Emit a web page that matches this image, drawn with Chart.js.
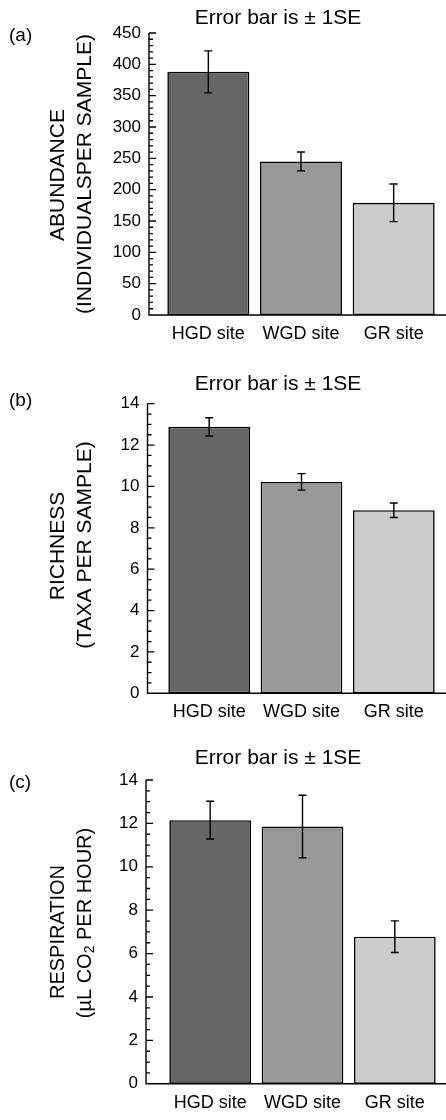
<!DOCTYPE html>
<html>
<head>
<meta charset="utf-8">
<script src="https://cdn.jsdelivr.net/npm/chart.js@4.4.1/dist/chart.umd.min.js"></script>
<style>
  body { margin: 0; background: #fff; }
  canvas { display: block; }
</style>
</head>
<body>
<canvas id="chartA" width="446" height="370"></canvas>
<canvas id="chartB" width="446" height="370"></canvas>
<canvas id="chartC" width="446" height="380"></canvas>
<script>
const sites = ['HGD site', 'WGD site', 'GR site'];
const abundance = [388, 245, 179];
const abundanceSE = [33.5, 15, 30];
const richness = [12.88, 10.22, 8.85];
const richnessSE = [0.44, 0.4, 0.35];
const respiration = [12.15, 11.86, 6.78];
const respirationSE = [0.87, 1.44, 0.73];
const barColors = ['#666666', '#999999', '#cccccc'];
const titleText = 'Error bar is \u00b1 1SE';

const FONT = "'Liberation Sans', Arial, Helvetica, sans-serif";

// error bars, hand drawn axis with minor ticks, and the panel texts
const panelDecor = {
  id: 'panelDecor',
  afterDatasetsDraw(chart, args, opts) {
    const ctx = chart.ctx;
    const y = chart.scales.y;
    const area = chart.chartArea;
    const meta = chart.getDatasetMeta(0);
    const vals = chart.data.datasets[0].data;
    ctx.save();
    ctx.strokeStyle = '#000';
    ctx.lineWidth = 1.4;

    meta.data.forEach(function(bar, i) {
      const top = y.getPixelForValue(vals[i] + opts.se[i]);
      const bot = y.getPixelForValue(vals[i] - opts.se[i]);
      ctx.beginPath();
      ctx.moveTo(bar.x, top); ctx.lineTo(bar.x, bot);
      ctx.moveTo(bar.x - 4, top); ctx.lineTo(bar.x + 4, top);
      ctx.moveTo(bar.x - 4, bot); ctx.lineTo(bar.x + 4, bot);
      ctx.stroke();
    });

    const ax = opts.axisX;
    ctx.beginPath();
    ctx.moveTo(ax, y.getPixelForValue(y.max));
    ctx.lineTo(ax, area.bottom);
    ctx.lineTo(chart.width, area.bottom);
    ctx.stroke();

    const n = Math.round((y.max - y.min) / opts.minor);
    ctx.lineWidth = 1.3;
    ctx.beginPath();
    for (let k = 0; k < n; k++) {
      const py = y.getPixelForValue(y.max - k * opts.minor);
      const len = (k % opts.perMajor === 0) ? 7 : 4;
      ctx.moveTo(ax, py);
      ctx.lineTo(ax + len, py);
    }
    ctx.stroke();

    ctx.fillStyle = '#000';
    ctx.textBaseline = 'middle';
    ctx.font = '21px ' + FONT;
    ctx.textAlign = 'center';
    ctx.fillText(titleText, opts.title.x, opts.title.y);

    ctx.font = '19px ' + FONT;
    ctx.textAlign = 'left';
    ctx.fillText(opts.letter.text, opts.letter.x, opts.letter.y);

    const fs = opts.yFont;
    opts.yLines.forEach(function(line) {
      ctx.save();
      ctx.translate(line.x, line.cy);
      ctx.rotate(-Math.PI / 2);
      const segs = line.segs || [{ t: line.text }];
      let total = 0;
      segs.forEach(function(s) {
        ctx.font = (s.sub ? Math.round(fs * 0.7) : fs) + 'px ' + FONT;
        s.w = ctx.measureText(s.t).width;
        total += s.w;
      });
      let pos = -total / 2;
      ctx.textAlign = 'left';
      segs.forEach(function(s) {
        ctx.font = (s.sub ? Math.round(fs * 0.7) : fs) + 'px ' + FONT;
        ctx.fillText(s.t, pos, s.sub ? 5 : 0);
        pos += s.w;
      });
      ctx.restore();
    });
    ctx.restore();
  }
};

function makeChart(id, values, se, cfg) {
  return new Chart(document.getElementById(id), {
    type: 'bar',
    data: {
      labels: sites,
      datasets: [{
        data: values,
        backgroundColor: barColors,
        borderColor: '#000',
        borderWidth: 1.6,
        borderSkipped: false,
        categoryPercentage: 1,
        barPercentage: 0.885
      }]
    },
    options: {
      responsive: false,
      animation: false,
      layout: {
        autoPadding: false,
        padding: { top: cfg.top, right: 446 - cfg.right, left: 0, bottom: 0 }
      },
      plugins: {
        legend: { display: false },
        tooltip: { enabled: false },
        panelDecor: {
          se: se,
          axisX: cfg.axisX,
          minor: cfg.minor,
          perMajor: cfg.perMajor,
          title: cfg.title,
          letter: cfg.letter,
          yFont: cfg.yFont,
          yLines: cfg.yLines
        }
      },
      scales: {
        x: {
          grid: { display: false, drawTicks: false },
          border: { display: false },
          ticks: { color: '#000', font: { family: FONT, size: 18 }, padding: 8, maxRotation: 0, autoSkip: false },
          afterFit: function(s) { s.height = cfg.height - cfg.bottom; }
        },
        y: {
          min: 0,
          max: cfg.max,
          grid: { display: false, drawTicks: false },
          border: { display: false },
          ticks: { stepSize: cfg.step, color: '#000', font: { family: FONT, size: 17 }, padding: cfg.left - cfg.axisX + 8 },
          afterFit: function(s) { s.width = cfg.left; }
        }
      }
    },
    plugins: [panelDecor]
  });
}

makeChart('chartA', abundance, abundanceSE, {
  height: 370, top: 33, bottom: 315, axisX: 149, left: 162, right: 440,
  max: 450, step: 50, minor: 10, perMajor: 5,
  title: { x: 278, y: 18 },
  letter: { text: '(a)', x: 9, y: 36 },
  yFont: 21,
  yLines: [
    { text: 'ABUNDANCE', x: 58, cy: 175 },
    { text: '(INDIVIDUALSPER SAMPLE)', x: 85, cy: 174 }
  ]
});

makeChart('chartB', richness, richnessSE, {
  height: 370, top: 27.7, bottom: 323.3, axisX: 147.5, left: 163, right: 440,
  max: 14, step: 2, minor: 0.5, perMajor: 4,
  title: { x: 278, y: 14 },
  letter: { text: '(b)', x: 9, y: 31 },
  yFont: 21,
  yLines: [
    { text: 'RICHNESS', x: 58, cy: 176 },
    { text: '(TAXA PER SAMPLE)', x: 85, cy: 175 }
  ]
});

makeChart('chartC', respiration, respirationSE, {
  height: 380, top: 40, bottom: 354.3, axisX: 146, left: 164, right: 441,
  max: 14, step: 2, minor: 0.5, perMajor: 4,
  title: { x: 278, y: 18 },
  letter: { text: '(c)', x: 9, y: 43 },
  yFont: 20,
  yLines: [
    { text: 'RESPIRATION', x: 58, cy: 192 },
    { segs: [{ t: '(\u00b5L CO' }, { t: '2', sub: true }, { t: ' PER HOUR)' }], x: 85, cy: 183 }
  ]
});
</script>
</body>
</html>
